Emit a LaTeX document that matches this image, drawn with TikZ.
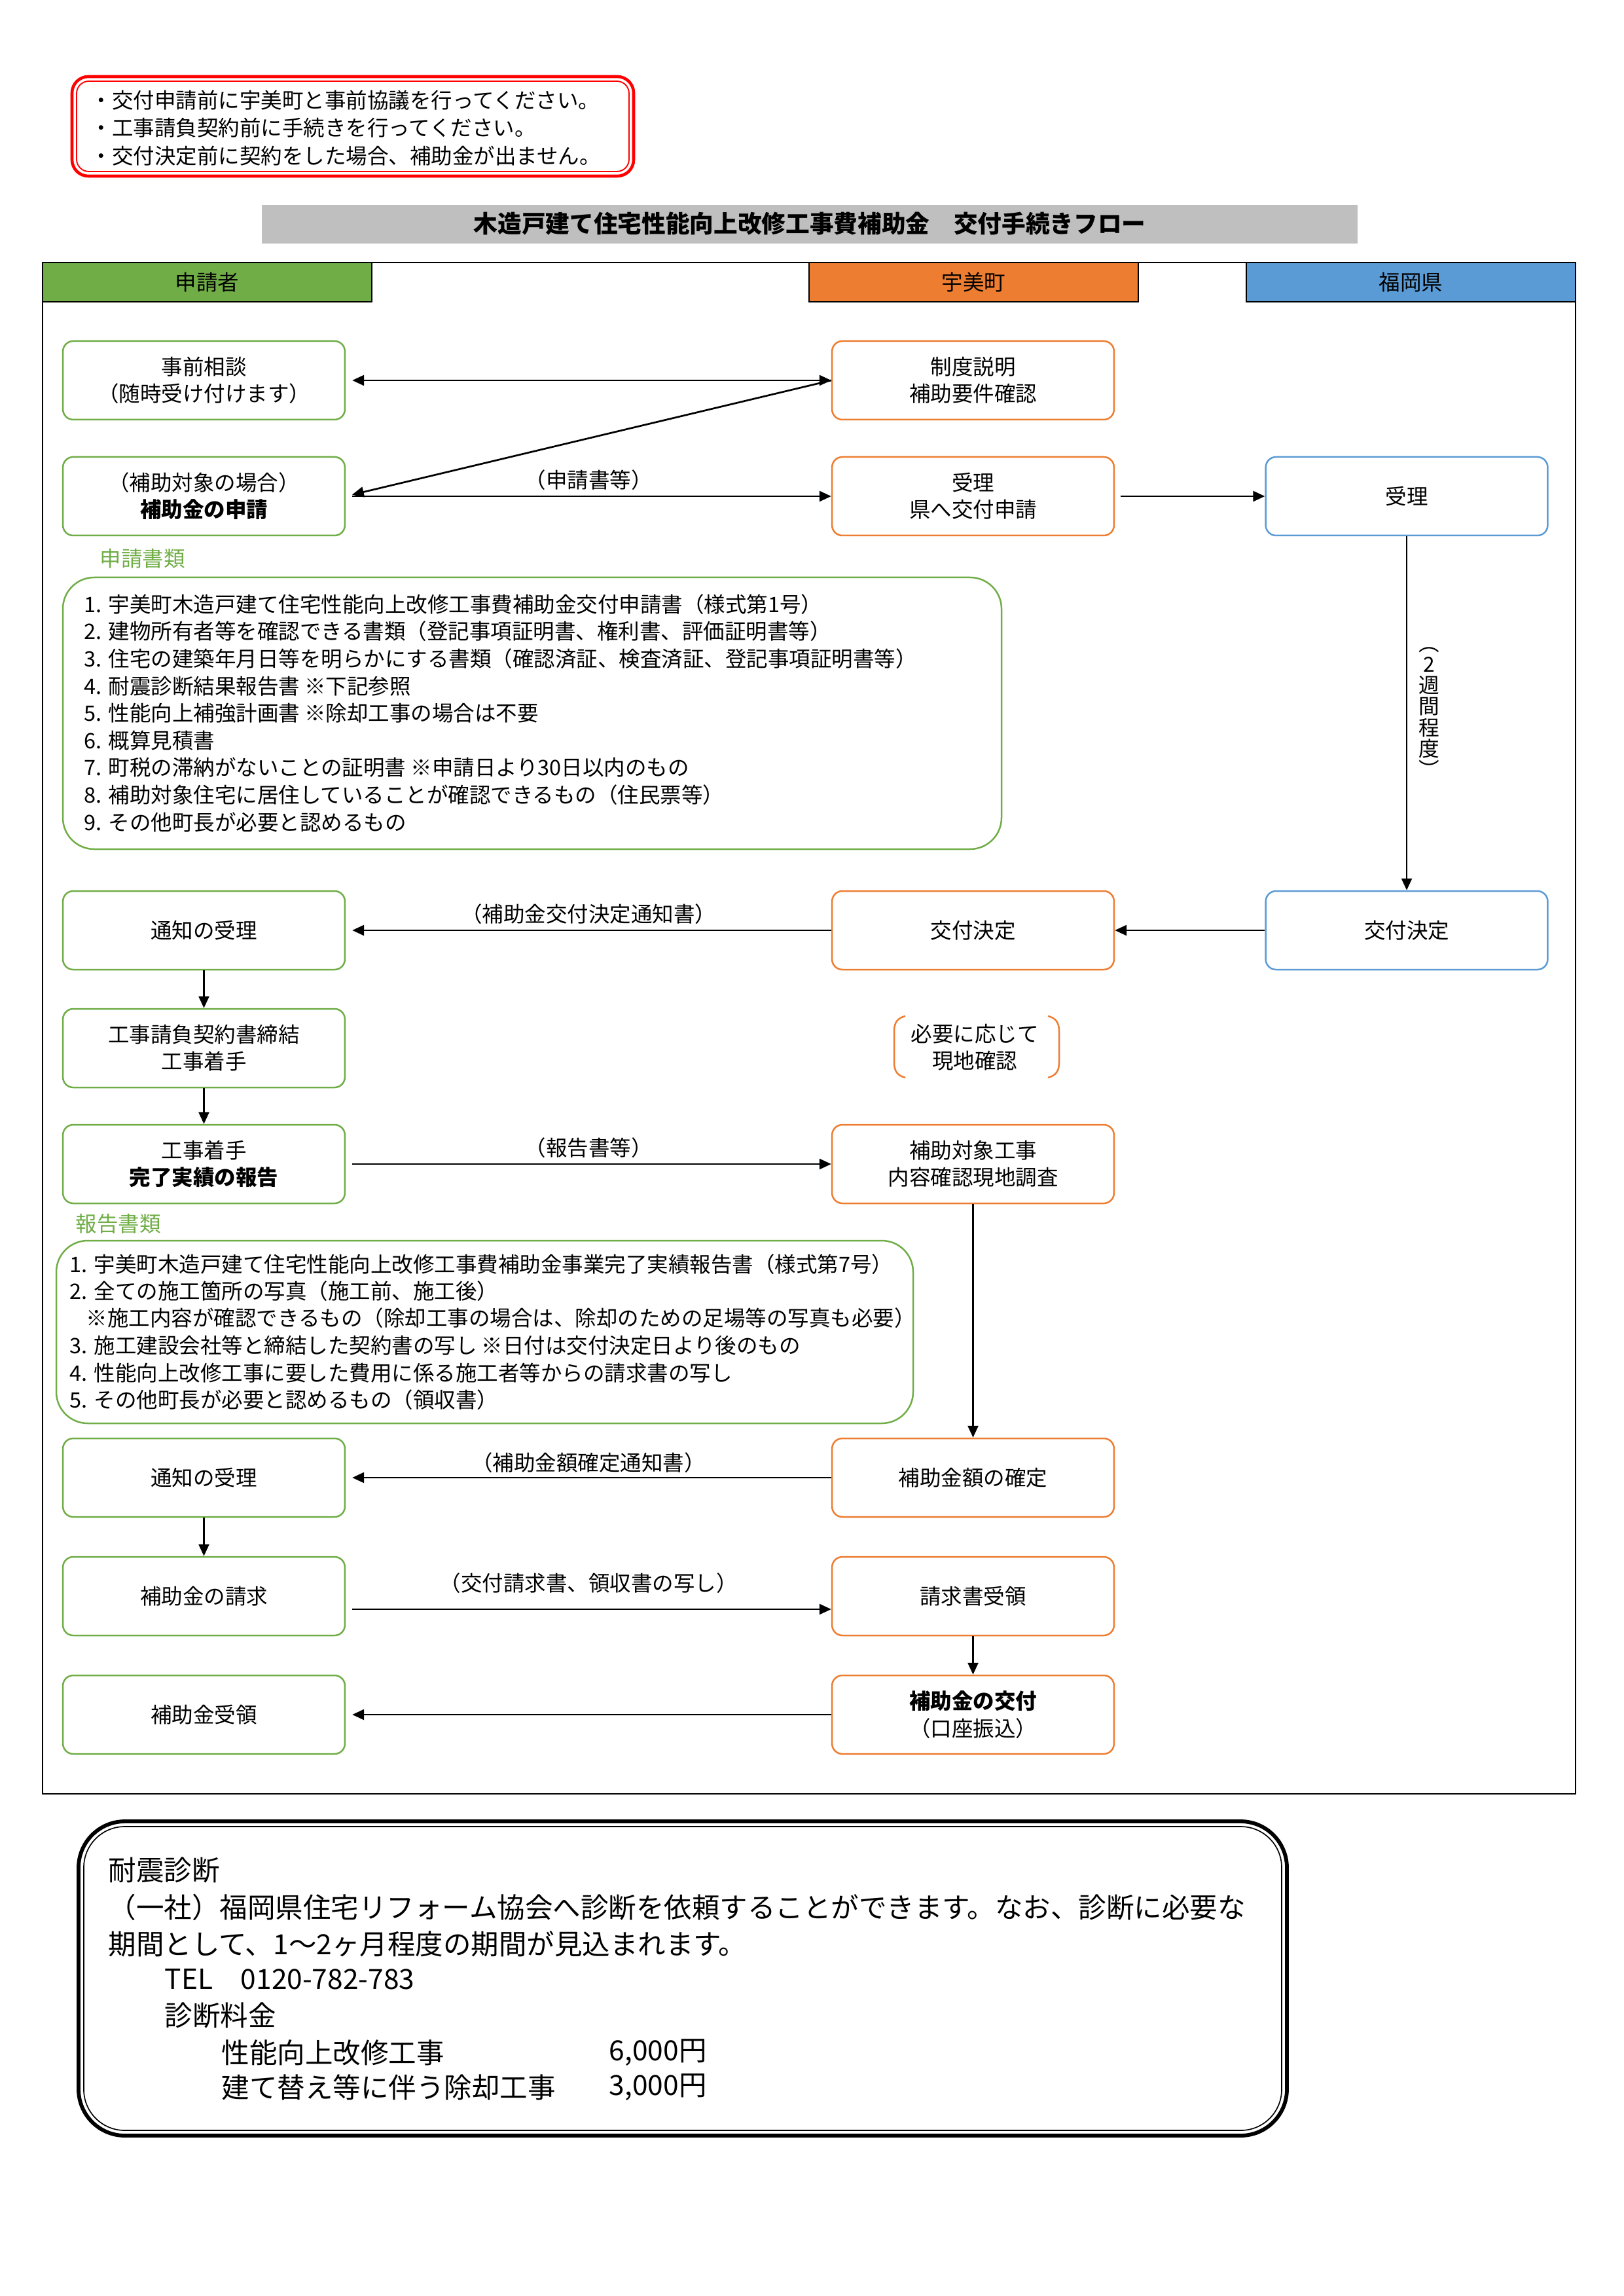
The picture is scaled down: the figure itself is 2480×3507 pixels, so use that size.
\documentclass[tikz,border=0pt]{standalone}
\usepackage{fontspec}
\setmainfont{Noto Sans CJK JP}
\usetikzlibrary{arrows.meta,calc}
\definecolor{cgreen}{HTML}{70AD47}
\definecolor{corange}{HTML}{ED7D31}
\definecolor{cblue}{HTML}{5B9BD5}
\definecolor{cgray}{HTML}{BFBFBF}
\definecolor{cred}{HTML}{FF0000}
\newcommand\fsA{\fontsize{7.8pt}{9.9pt}\selectfont}
\newcommand\fsT{\fontsize{8.8pt}{10pt}\selectfont\bfseries}
\newcommand\fsB{\fontsize{10.2pt}{13pt}\selectfont}
\newcommand\fsV{\fontsize{7.6pt}{7.7pt}\selectfont}
\tikzset{
  box/.style={draw, line width=0.6pt, rounded corners=3.8pt, minimum width=103.4pt,
    minimum height=28.8pt, align=center, inner sep=0pt, font=\fsA},
  gbox/.style={box, draw=cgreen},
  obox/.style={box, draw=corange},
  bbox/.style={box, draw=cblue},
  arr/.style={line width=0.65pt, -{Triangle[length=4.3pt,width=3.8pt]}},
  arrboth/.style={line width=0.65pt, {Triangle[length=4.3pt,width=3.8pt]}-{Triangle[length=4.3pt,width=3.8pt]}},
  lab/.style={font=\fsA, inner sep=0pt},
  lt/.style={font=\fsA, inner sep=0pt, anchor=west},
  bt/.style={font=\fsB, inner sep=0pt, anchor=west},
  hdr/.style={font=\fsA, inner sep=0pt},
}
\begin{document}
\begin{tikzpicture}[x=0.24pt,y=-0.24pt]
\useasboundingbox (0,0) rectangle (2480,3507);
\fill[white] (0,0) rectangle (2480,3507);

% notice box
\draw[cred, line width=1.1pt, rounded corners=6pt] (110,117) rectangle (968,269);
\draw[cred, line width=0.45pt, rounded corners=4.5pt] (117,124) rectangle (961,262);
\node[lt] (n1) at (138,153) {・交付申請前に宇美町と事前協議を行ってください。};
\node[lt] (n2) at (138,195) {・工事請負契約前に手続きを行ってください。};
\node[lt] (n3) at (138,238) {・交付決定前に契約をした場合、補助金が出ません。};

% title
\fill[cgray] (400,313) rectangle (2074,372);
\node[font=\fsT, inner sep=0pt] (title) at (1237,342) {木造戸建て住宅性能向上改修工事費補助金　交付手続きフロー};

% frame and headers
\draw[line width=0.6pt] (65,401) rectangle (2407,2740);
\filldraw[fill=cgreen, draw=black, line width=0.65pt] (65,401) rectangle (568,461);
\filldraw[fill=corange, draw=black, line width=0.65pt] (1236,401) rectangle (1739,461);
\filldraw[fill=cblue, draw=black, line width=0.65pt] (1904,401) rectangle (2407,461);
\node[hdr] (h1) at (316.5,431) {申請者};
\node[hdr] (h2) at (1487.5,431) {宇美町};
\node[hdr] (h3) at (2155.5,431) {福岡県};

% boxes
\node[gbox] (g1) at (311.5,581) {事前相談\\（随時受け付けます）};
\node[obox] (o1) at (1486.5,581) {制度説明\\補助要件確認};
\node[gbox] (g2) at (311.5,758) {（補助対象の場合）\\\textbf{補助金の申請}};
\node[obox] (o2) at (1486.5,758) {受理\\県へ交付申請};
\node[bbox] (b2) at (2149,758) {受理};

\node[gbox] (g3) at (311.5,1421) {通知の受理};
\node[obox] (o3) at (1486.5,1421) {交付決定};
\node[bbox] (b3) at (2149,1421) {交付決定};

\node[gbox] (g4) at (311.5,1601) {工事請負契約書締結\\工事着手};
\node[gbox] (g5) at (311.5,1778) {工事着手\\\textbf{完了実績の報告}};
\node[obox] (o5) at (1486.5,1778) {補助対象工事\\内容確認現地調査};

\node[gbox] (g6) at (311.5,2257) {通知の受理};
\node[obox] (o6) at (1486.5,2257) {補助金額の確定};
\node[gbox] (g7) at (311.5,2438) {補助金の請求};
\node[obox] (o7) at (1486.5,2438) {請求書受領};
\node[gbox] (g8) at (311.5,2619) {補助金受領};
\node[obox] (o8) at (1486.5,2619) {\textbf{補助金の交付}\\（口座振込）};

% application documents
\node[lt, text=cgreen] (apphead) at (152,853) {申請書類};
\draw[cgreen, line width=0.6pt, rounded corners=11.5pt] (96,882) rectangle (1530,1297);
\foreach \i/\t in {
  1/{1. 宇美町木造戸建て住宅性能向上改修工事費補助金交付申請書（様式第1号）},
  2/{2. 建物所有者等を確認できる書類（登記事項証明書、権利書、評価証明書等）},
  3/{3. 住宅の建築年月日等を明らかにする書類（確認済証、検査済証、登記事項証明書等）},
  4/{4. 耐震診断結果報告書 ※下記参照},
  5/{5. 性能向上補強計画書 ※除却工事の場合は不要},
  6/{6. 概算見積書},
  7/{7. 町税の滞納がないことの証明書 ※申請日より30日以内のもの},
  8/{8. 補助対象住宅に居住していることが確認できるもの（住民票等）},
  9/{9. その他町長が必要と認めるもの}}
  \node[lt] (app\i) at (128,{923+41.6*(\i-1)}) {\t};

% report documents
\node[lt, text=cgreen] (rephead) at (115,1869) {報告書類};
\draw[cgreen, line width=0.6pt, rounded corners=11.5pt] (86,1895) rectangle (1395,2174);
\node[lt] (rep1) at (106,1931) {1. 宇美町木造戸建て住宅性能向上改修工事費補助金事業完了実績報告書（様式第7号）};
\node[lt] (rep2) at (106,1972) {2. 全ての施工箇所の写真（施工前、施工後）};
\node[lt] (rep2b) at (131,2013) {※施工内容が確認できるもの（除却工事の場合は、除却のための足場等の写真も必要）};
\node[lt] (rep3) at (106,2055) {3. 施工建設会社等と締結した契約書の写し ※日付は交付決定日より後のもの};
\node[lt] (rep4) at (106,2097) {4. 性能向上改修工事に要した費用に係る施工者等からの請求書の写し};
\node[lt] (rep5) at (106,2138) {5. その他町長が必要と認めるもの（領収書）};

% on-site check note
\node[font=\fsA, align=center, inner sep=0pt] (chk) at (1489,1600) {必要に応じて\\現地確認};
\draw[corange, line width=0.6pt] (1383,1552) .. controls (1371,1555) and (1366,1562) .. (1366,1575) -- (1366,1623) .. controls (1366,1636) and (1371,1643) .. (1383,1646);
\draw[corange, line width=0.6pt] (1601,1552) .. controls (1613,1555) and (1618,1562) .. (1618,1575) -- (1618,1623) .. controls (1618,1636) and (1613,1643) .. (1601,1646);

% connectors
\draw[arrboth, shorten >=2.4pt] (o1.west) -- (g1.east);
\draw[arr, shorten >=2.4pt] (o1.west) -- (g2.east);
\draw[arr, shorten <=2.4pt] (g2.east) -- node[lab, midway, yshift=6pt] (l2) {（申請書等）} (o2.west);
\draw[arr, shorten <=2pt] (o2.east) -- (b2.west);
\draw[arr] (b2.south) -- (b3.north);
\node[font=\fsV, align=center, inner sep=0pt] (wk) at (2183,1088) {︵\\2\\週\\間\\程\\度\\︶};
\draw[arr] (b3.west) -- (o3.east);
\draw[arr, shorten >=2.4pt] (o3.west) -- node[lab, midway, yshift=6pt] (l3) {（補助金交付決定通知書）} (g3.east);
\draw[arr] (g3.south) -- (g4.north);
\draw[arr] (g4.south) -- (g5.north);
\draw[arr, shorten <=2.4pt] (g5.east) -- node[lab, midway, yshift=6pt] (l5) {（報告書等）} (o5.west);
\draw[arr] (o5.south) -- (o6.north);
\draw[arr, shorten >=2.4pt] (o6.west) -- node[lab, midway, yshift=5.5pt] (l6) {（補助金額確定通知書）} (g6.east);
\draw[arr] (g6.south) -- (g7.north);
\draw[arr, shorten <=2.4pt] ($(g7.east)+(0,20)$) -- node[lab, midway, yshift=9.6pt] (l7) {（交付請求書、領収書の写し）} ($(o7.west)+(0,20)$);
\draw[arr] (o7.south) -- (o8.north);
\draw[arr, shorten >=2.4pt] (o8.west) -- (g8.east);

% seismic diagnosis box
\draw[line width=1.4pt, rounded corners=17pt] (120,2782) rectangle (1966,3262);
\draw[line width=0.4pt, rounded corners=15pt] (128,2790) rectangle (1958,3254);
\node[bt] (d1) at (165,2857) {耐震診断};
\node[bt] (d2) at (165,2913) {（一社）福岡県住宅リフォーム協会へ診断を依頼することができます。なお、診断に必要な};
\node[bt] (d3) at (165,2969) {期間として、1～2ヶ月程度の期間が見込まれます。};
\node[bt] (d4) at (251,3023) {TEL　0120-782-783};
\node[bt] (d5) at (251,3078) {診断料金};
\node[bt] (d6) at (338,3135) {性能向上改修工事};
\node[bt] (d6p) at (930,3135) {6,000円};
\node[bt] (d7) at (338,3188) {建て替え等に伴う除却工事};
\node[bt] (d7p) at (930,3188) {3,000円};
\end{tikzpicture}
\end{document}
